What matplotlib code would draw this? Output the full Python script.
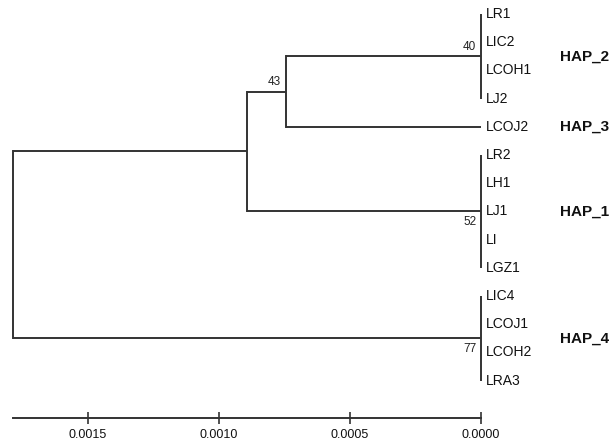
import matplotlib
matplotlib.use("Agg")
import matplotlib.pyplot as plt
import numpy as np

plt.rcParams['font.family'] = ['Liberation Sans', 'DejaVu Sans']

# ---- data ----
hap_names = ['HAP_2', 'HAP_3', 'HAP_1', 'HAP_4']
hap_members = [
    ['LR1', 'LIC2', 'LCOH1', 'LJ2'],
    ['LCOJ2'],
    ['LR2', 'LH1', 'LJ1', 'LI', 'LGZ1'],
    ['LIC4', 'LCOJ1', 'LCOH2', 'LRA3'],
]
hap_support = [40, None, 52, 77]
hap_support_side = ['above', None, 'below', 'below']

# internal nodes: (child_a, child_b, height, support)
node_names = ['n43', 'nA', 'root']
node_children = [('HAP_2', 'HAP_3'), ('n43', 'HAP_1'), ('nA', 'HAP_4')]
node_heights = [0.000745, 0.000894, 0.001786]
node_support = [43, None, None]

tick_values = [0.0015, 0.0010, 0.0005, 0.0000]
tick_labels = ['0.0015', '0.0010', '0.0005', '0.0000']

# ---- figure ----
W, H = 613, 444
fig = plt.figure(figsize=(W / 100, H / 100), dpi=100)
left_px, right_px, top_px, bottom_px = 12.7, 481.0, 0.0, 418.0
ax = fig.add_axes([left_px / W, (H - bottom_px) / H,
                   (right_px - left_px) / W, (bottom_px - top_px) / H])

lc = '#333333'
lw = 1.4

leaves = [l for m in hap_members for l in m]
leaf_y = {l: i for i, l in enumerate(leaves)}

pos = {}
for name, mem, sup, side in zip(hap_names, hap_members, hap_support, hap_support_side):
    ys = [leaf_y[l] for l in mem]
    if len(ys) > 1:
        ax.plot([0, 0], [min(ys), max(ys)], color=lc, lw=lw, clip_on=False,
                solid_capstyle='butt')
    cy = float(np.mean(ys))
    pos[name] = (0.0, cy)
    for l in mem:
        ax.annotate(l, (0, leaf_y[l]), xytext=(3.5, 0), textcoords='offset points',
                    ha='left', va='center', fontsize=10, color='#111111')
    ax.annotate(name, (0, cy), xytext=(57, 0), textcoords='offset points',
                ha='left', va='center', fontsize=11, fontweight='bold', color='#111111')
    if sup is not None:
        if side == 'above':
            ax.annotate(str(sup), (0, cy), xytext=(-3.5, 2.5), textcoords='offset points',
                        ha='right', va='bottom', fontsize=8.5, color='#222222')
        else:
            ax.annotate(str(sup), (0, cy), xytext=(-3.5, -3.5), textcoords='offset points',
                        ha='right', va='top', fontsize=8.5, color='#222222')

for name, (a, b), h, sup in zip(node_names, node_children, node_heights, node_support):
    xa, ya = pos[a]
    xb, yb = pos[b]
    ax.plot([h, h], [ya, yb], color=lc, lw=lw, clip_on=False, solid_capstyle='projecting')
    ax.plot([h, xa], [ya, ya], color=lc, lw=lw, clip_on=False, solid_capstyle='butt')
    ax.plot([h, xb], [yb, yb], color=lc, lw=lw, clip_on=False, solid_capstyle='butt')
    cy = (ya + yb) / 2
    pos[name] = (h, cy)
    if sup is not None:
        ax.annotate(str(sup), (h, cy), xytext=(-3.5, 2.5), textcoords='offset points',
                    ha='right', va='bottom', fontsize=8.5, color='#222222')

ax.set_xlim(node_heights[-1], 0)
spacing = 28.2
first_px = 14.0
ax.set_ylim((bottom_px - first_px) / spacing, (top_px - first_px) / spacing)

for s in ['left', 'right', 'top']:
    ax.spines[s].set_visible(False)
ax.spines['bottom'].set_linewidth(1.4)
ax.spines['bottom'].set_color(lc)
ax.set_yticks([])
ax.set_xticks(tick_values)
ax.set_xticklabels(tick_labels)
ax.tick_params(axis='x', direction='inout', length=8, width=1.2, color=lc,
               labelsize=9, pad=4, labelcolor='#111111')
ax.patch.set_visible(False)

fig.savefig('out.png', dpi=100)
